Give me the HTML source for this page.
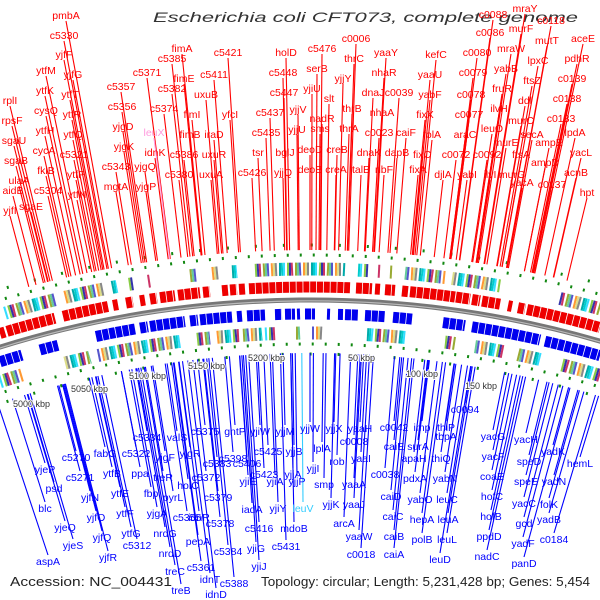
<!DOCTYPE html>
<html><head><meta charset="utf-8"><style>
html,body{margin:0;padding:0;background:#fff;width:600px;height:600px;overflow:hidden}
svg{display:block;font-family:"Liberation Sans",sans-serif}
</style></head><body>
<svg id="map" width="600" height="600" viewBox="0 0 600 600" xmlns="http://www.w3.org/2000/svg">
<text x="153" y="22" font-size="14" font-style="italic" fill="#333" textLength="425" lengthAdjust="spacingAndGlyphs">Escherichia coli CFT073, complete genome</text>
<g id="rings"></g><g id="lines"></g><g id="labels"></g>
<text x="10" y="586" font-size="13" fill="#222" textLength="162" lengthAdjust="spacingAndGlyphs">Accession: NC_004431</text>
<text x="261" y="586" font-size="13" fill="#222" textLength="329" lengthAdjust="spacingAndGlyphs">Topology: circular; Length: 5,231,428 bp; Genes: 5,454</text>
</svg>
<script>
const NS="http://www.w3.org/2000/svg";
const CX=310,CY=1344,R=1044;
const redLabels=[["pmbA",66,19],["c5330",64,39],["yjfF",64,58],["yjfG",73,78],["ytfM",46,74],["ytfK",45,94],["ytfT",70,98],["cysQ",46,114],["ytfR",72,118],["ytfH",45,134],["ytfQ",73,138],["cycA",44,154],["c5321",74,158],["fklB",46,174],["ytfP",76,178],["c5304",48,194],["ytfN",77,198],["rplI",10,104],["rpsF",12,124],["sgaU",14,144],["sgaB",16,164],["ulaA",19,184],["aidB",13,194],["sgaE",31,210],["yjfI",10,214],["c5357",121,90],["c5356",122,110],["yjgD",123,130],["yjgK",124,150],["c5343",116,170],["mgtA",116,190],["yjgQ",145,170],["yjgP",146,190],["idnK",155,156],["c5371",147,76],["c5382",172,92],["c5374",164,112],["c5385",172,62],["fimA",182,52],["fimE",184,82],["fimI",192,118],["fimB",190,138],["c5386",184,158],["c5380",179,178],["c5411",214,78],["uxuB",206,98],["iraD",214,138],["uxuR",214,158],["uxuA",211,178],["c5421",228,56],["yfcI",230,118],["c5426",252,176],["tsr",258,156],["c5435",266,136],["c5437",270,116],["holD",286,56],["c5448",283,76],["c5447",284,96],["bglJ",285,156],["yjjQ",283,176],["yjjV",298,113],["yjjU",297,133],["deoD",310,153],["deoB",310,173],["yjiU",312,92],["c5476",322,52],["serB",317,72],["slt",329,102],["nadR",322,122],["sms",320,132],["creB",337,153],["creA",336,173],["yjjY",343,82],["c0006",356,42],["thrC",354,62],["thrB",352,112],["thrA",349,132],["talB",361,173],["yaaY",386,56],["nhaR",384,76],["dnaJ",373,96],["c0039",399,96],["nhaA",382,116],["c0023",379,136],["dnaK",369,156],["ribF",384,173],["caiF",406,136],["dapB",397,156],["kefC",436,58],["yaaU",430,78],["yabF",430,98],["fixX",425,118],["folA",432,138],["fixC",422,158],["fixA",418,173],["djlA",443,178],["araC",465,138],["c0072",456,158],["yabI",467,178],["c0077",469,118],["c0078",471,98],["c0079",473,76],["c0080",477,56],["c0086",490,36],["c0088",493,18],["mraY",525,12],["murF",521,32],["c0118",551,24],["mraW",511,52],["mutT",547,44],["yabB",506,72],["lpxC",538,64],["fruR",502,92],["ftsZ",532,84],["ilvH",499,112],["ddl",525,104],["leuO",492,132],["murC",521,124],["murE",506,146],["secA",532,138],["c0092",487,158],["ftsA",521,158],["ilvI",490,178],["murG",512,178],["yacA",522,186],["ampE",549,146],["ampD",545,166],["c0137",552,188],["aceE",583,42],["pdhR",577,62],["c0139",572,82],["c0138",567,102],["c0133",561,122],["lpdA",575,136],["yacL",581,156],["acnB",576,176],["hpt",587,196]];
const pinkLabels=[["leuX",154,136]];
const blueLabels=[["yjeP",45,473],["c5270",76,461],["psd",54,492],["c5271",80,481],["blc",45,512],["yjfN",90,501],["yjeQ",65,531],["yjfO",96,521],["yjeS",73,549],["yjfQ",102,541],["aspA",48,565],["yjfR",108,561],["fabG",105,457],["ytfB",112,477],["ytfE",120,497],["ytfF",125,517],["ytfG",131,537],["c5312",137,549],["c5334",147,441],["c5322",136,457],["ppa",140,477],["fbp",151,497],["yjgA",157,517],["nrdG",165,537],["nrdD",170,557],["treC",175,575],["treB",181,594],["valS",177,441],["yjgF",165,461],["treR",163,481],["pyrL",173,501],["c5375",205,435],["yjgR",190,457],["holC",188,489],["c5355",187,521],["pepA",198,545],["c5361",201,571],["idnT",210,583],["idnD",216,598],["c5383",217,467],["c5372",206,481],["idnR",199,521],["c5379",218,501],["c5378",220,527],["c5384",228,555],["c5388",234,587],["gntP",235,435],["c5398",233,462],["yjiW",260,435],["c5425",268,455],["c5406",247,467],["c5423",264,478],["yjiE",248,485],["iadA",252,513],["c5416",259,532],["yjiG",256,552],["yjiJ",259,570],["yjjM",285,435],["yjjB",294,455],["yjjA",293,478],["yjiA",275,485],["yjjP",297,485],["yjiY",278,512],["mdoB",294,532],["c5431",286,550],["yjjW",310,432],["yjjX",334,432],["yaaH",360,432],["lplA",322,452],["c0008",354,445],["yaaI",361,462],["yjjI",313,472],["rob",337,465],["smp",324,488],["yaaA",354,488],["yjjK",331,508],["yaaJ",354,508],["arcA",344,527],["yaaW",359,540],["c0018",361,558],["c0042",394,431],["caiE",394,450],["c0038",385,478],["caiD",391,500],["caiC",393,520],["caiB",394,540],["caiA",394,558],["imp",422,431],["thiP",446,431],["c0094",465,413],["surA",418,450],["tbpA",446,440],["apaH",414,462],["thiQ",441,462],["pdxA",415,482],["yabN",445,482],["yabO",420,503],["leuC",447,503],["hepA",422,523],["leuA",448,523],["polB",422,543],["leuL",447,543],["leuD",440,563],["yacG",493,440],["yacF",493,460],["coaE",492,480],["hofC",492,500],["hofB",491,520],["ppdD",489,540],["nadC",487,560],["yacH",526,443],["yadK",553,455],["hemL",580,467],["speD",529,465],["yadN",554,485],["speE",526,485],["yacC",524,507],["folK",549,508],["yadB",549,523],["gcd",524,527],["c0184",554,543],["yadF",523,547],["panD",524,567]];
const cyanLabels=[["leuV",303,512]];
const redGenes=[[0,5],[7,55],[63,108],[113,118],[126,133],[140,145],[150,157],[160,175],[178,200],[203,210],[222,228],[230,237],[239,245],[249,350],[356,372],[375,380],[385,395],[402,408],[410,455],[456,470],[472,480],[482,500],[508,512],[518,525],[527,600]];
const blueGenes=[[0,22],[40,58],[96,135],[140,148],[150,185],[190,198],[200,232],[237,242],[247,265],[275,282],[285,295],[297,300],[305,315],[327,330],[338,343],[345,358],[365,385],[393,412],[443,465],[472,540],[545,600]];
const upperBoxes=[[5,55],[63,103],[110,117],[127,133],[148,152],[190,196],[210,218],[230,237],[253,345],[358,368],[378,380],[388,392],[405,445],[452,500],[560,600]];
const lowerBoxes=[[0,22],[65,90],[98,180],[195,210],[215,240],[243,262],[265,275],[282,284],[296,300],[312,322],[365,405],[443,455],[475,505],[518,540],[560,600]];
const kbpText=["5000 kbp","5050 kbp","5100 kbp","5150 kbp","5200 kbp","50 kbp","100 kbp","150 kbp"];
const kbpX=[13,71,129,188,248,348,406,465];
const kbpY=[407,392,379,369,361,361,377,389];
const palette=["#00cccc","#888888","#ff66aa","#99aa33","#3333aa","#33ddff","#aaaaaa","#ff9933","#66cc99","#cc3366","#777722","#00aaaa","#dddd88","#5555cc","#444444","#88cc44"];
const rings=document.getElementById('rings'),lines=document.getElementById('lines'),labels=document.getElementById('labels');
function ang(x,r){return Math.asin(Math.max(-1,Math.min(1,(x-CX)/r)));}
function pt(a,r){return [CX+r*Math.sin(a),CY-r*Math.cos(a)];}
function arc(x0,x1,r){const a0=ang(x0,r),a1=ang(x1,r),p=pt(a0,r),q=pt(a1,r);return `M${p[0].toFixed(1)},${p[1].toFixed(1)} A${r},${r} 0 0 1 ${q[0].toFixed(1)},${q[1].toFixed(1)}`;}
function mk(tag,attrs,parent){const e=document.createElementNS(NS,tag);for(const k in attrs)e.setAttribute(k,attrs[k]);parent.appendChild(e);return e;}
[[1089,"2 11"],[1099,"2 26"],[1000,"2 11"],[990,"2 26"]].forEach(([r,d])=>{
 const e=mk('path',{d:arc(-20,620,r),fill:'none',stroke:'#118811','stroke-width':3,'stroke-dasharray':d},rings);
 
 
});
const bb=mk('path',{d:arc(-20,620,R),fill:'none',stroke:'#777','stroke-width':5},rings);


mk('path',{d:arc(-20,620,R-0.8),fill:'none',stroke:'#bbb','stroke-width':1.2},rings);
redGenes.forEach(g=>{const e=mk('path',{d:arc(g[0],g[1],1057),fill:'none',stroke:'#ee0000','stroke-width':11,'stroke-dasharray':'6 0.8'},rings);
 
 });
blueGenes.forEach(g=>{const e=mk('path',{d:arc(g[0],g[1],1030),fill:'none',stroke:'#0000ee','stroke-width':11,'stroke-dasharray':'6 0.8'},rings);
 
 });
function boxes(list,r,tag){let k=0;list.forEach(b=>{for(let x=b[0];x<b[1];x+=2){k++;if(k%4==2)continue;const e=mk('path',{d:arc(x,Math.min(x+2,b[1]),r),fill:'none',stroke:palette[(k*5)%palette.length],'stroke-width':13},rings);
 
 }});}
boxes(upperBoxes,1075,'forward-feature');
boxes(lowerBoxes,1011,'reverse-feature');
function radial(x,y,r){const dx=x-CX,dy=y-CY,L=Math.hypot(dx,dy);return [CX+dx*r/L,CY+dy*r/L];}
function addLabels(list,color,lineColor,top){list.forEach(([n,x,y])=>{
 const ay=top?y+2:y-10;
 const p=radial(x,ay,top?1094:991);
 const l=mk('line',{x1:x,y1:ay,x2:p[0].toFixed(1),y2:p[1].toFixed(1),stroke:lineColor,'stroke-width':1.1},lines);
 
 
 const t=mk('text',{x:x,y:y,'font-size':10.5,fill:color,'text-anchor':'middle'},labels);
 t.textContent=n;
 
 });}
addLabels(redLabels,'#ff0000','#ff0000',true);
addLabels(pinkLabels,'#ff99dd','#ff99dd',true);
addLabels(blueLabels,'#0000ff','#0000ff',false);
addLabels(cyanLabels,'#33ccff','#33ccff',false);
kbpText.forEach((t,i)=>{const e=mk('text',{x:kbpX[i],y:kbpY[i],'font-size':9,fill:'#333',stroke:'#fff','stroke-width':2,'paint-order':'stroke'},labels);e.textContent=t;
 
 });
</script>
</body></html>
